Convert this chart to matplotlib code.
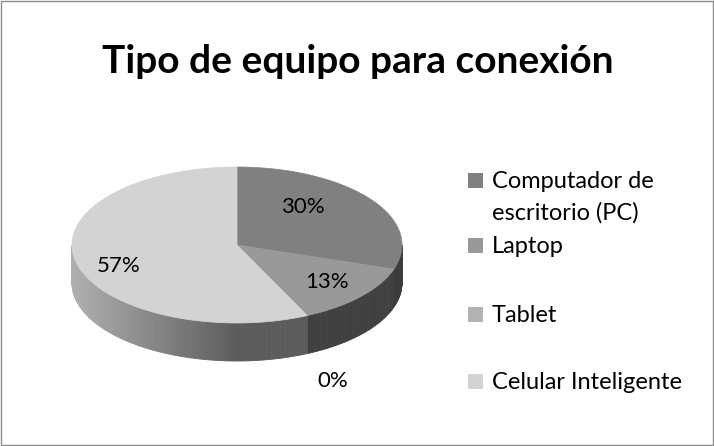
import numpy as np
import matplotlib
matplotlib.use("Agg")
import matplotlib.pyplot as plt
from matplotlib.patches import Polygon, Rectangle
import matplotlib.colors as mcolors

title = "Tipo de equipo para conexión"
categories = ["Computador de\nescritorio (PC)", "Laptop", "Tablet", "Celular Inteligente"]
values = [30, 13, 0, 57]
labels = ["30%", "13%", "0%", "57%"]
top_colors = ["#808080", "#999999", "#b3b3b3", "#d3d3d3"]
side_colors = [("#3c3c3c", "#3c3c3c"), ("#404040", "#404040"), ("#404040", "#404040"), ("#5c5c5c", "#b0b0b0")]

W, H = 714, 446
fig = plt.figure(figsize=(W / 100, H / 100), dpi=100)
ax = fig.add_axes([0, 0, 1, 1])
ax.set_xlim(0, W)
ax.set_ylim(H, 0)
ax.axis("off")
ax.add_patch(Rectangle((0.5, 0.5), W - 1.5, H - 1.5, fill=False, edgecolor="#8c8c8c", lw=1))

cx, cy, a, b, d = 237, 245, 165, 78, 38
font = "Lato"


def pt(t):
    return cx + a * np.cos(t), cy - b * np.sin(t)


total = sum(values)
start = 90.0
spans = []
for v in values:
    end = start - 360.0 * v / total
    spans.append((start, end))
    start = end

# sides (front, sin<0 region)
for (s, e), (c1, c2) in zip(spans, side_colors):
    lo, hi = min(s, e), max(s, e)
    for off in (0, -360, 360):
        fl, fh = max(lo, -180 + off), min(hi, 0 + off)
        if fh - fl <= 0:
            continue
        n = max(2, int((fh - fl) / 1.0))
        ts = np.radians(np.linspace(fl, fh, n + 1))
        for i in range(n):
            t0, t1 = ts[i], ts[i + 1]
            x0, y0 = pt(t0)
            x1, y1 = pt(t1)
            frac = ((x0 + x1) / 2 - (cx - a)) / (2 * a)
            ca = np.array(mcolors.to_rgb(c1))
            cb = np.array(mcolors.to_rgb(c2))
            col = cb + (ca - cb) * np.clip(frac / 0.5, 0, 1) if c1 != c2 else ca
            poly = [(x0, y0), (x1, y1), (x1, y1 + d), (x0, y0 + d)]
            ax.add_patch(Polygon(poly, closed=True, facecolor=col, edgecolor=col, lw=0.6))

# top faces
for (s, e), col in zip(spans, top_colors):
    if abs(s - e) < 1e-9:
        continue
    ts = np.radians(np.linspace(s, e, 200))
    xs, ys = pt(ts)
    poly = [(cx, cy)] + list(zip(xs, ys))
    ax.add_patch(Polygon(poly, closed=True, facecolor=col, edgecolor=col, lw=0.5))

# data labels (baseline positions)
label_pos = [(303, 213), (327, 288), (333, 387), (119, 272)]
for (x, y), t in zip(label_pos, labels):
    ax.text(x, y, t, ha="center", va="baseline", fontsize=16, family=font, color="#000000")

ax.text(358, 73, title, ha="center", va="baseline", fontsize=28, fontweight="bold", family=font)

# legend
leg_base = [188, 253, 322, 389]
for yy, cat, col in zip(leg_base, categories, top_colors):
    ax.add_patch(Rectangle((468, yy - 15), 15, 15, facecolor=col, edgecolor="none"))
    lines = cat.split("\n")
    for k, ln in enumerate(lines):
        ax.text(492, yy + 32 * k, ln, ha="left", va="baseline", fontsize=17, family=font,
                color="#000000")

fig.savefig("out.png", dpi=100)
